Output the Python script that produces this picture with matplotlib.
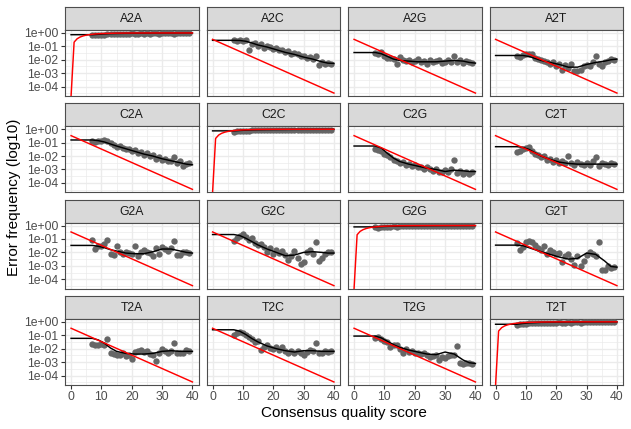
import matplotlib
matplotlib.use('Agg')
import matplotlib.pyplot as plt
from matplotlib.ticker import FixedLocator, NullFormatter
import numpy as np

plt.rcParams.update({
    'font.family': ['Liberation Sans', 'DejaVu Sans'],
})

# transitions, in facet order
transitions = ['A2A', 'A2C', 'A2G', 'A2T',
               'C2A', 'C2C', 'C2G', 'C2T',
               'G2A', 'G2C', 'G2G', 'G2T',
               'T2A', 'T2C', 'T2G', 'T2T']

# consensus quality scores of the observed points
obs_q = [7, 8, 9, 10, 11, 12, 13, 14, 15, 16, 17, 18, 19, 20, 21, 22, 23,
         24, 25, 26, 27, 28, 29, 30, 31, 32, 33, 34, 35, 36, 37, 38, 39]

obs_A2A = [-0.16, -0.18, -0.14, -0.12, -0.15, -0.09, -0.11, -0.07, -0.08, -0.06, -0.09,
           -0.05, -0.06, -0.04, -0.07, -0.05, -0.04, -0.06, -0.03, -0.05, -0.04, -0.03,
           -0.05, -0.03, -0.04, -0.02, -0.03, -0.05, -0.02, -0.03, -0.04, -0.02, -0.03]
obs_A2C = [-0.55, -0.58, -0.52, -0.60, -0.55, -1.30, -0.85, -0.75, -1.00, -0.85, -1.10,
           -0.95, -1.05, -1.20, -1.15, -1.30, -1.25, -1.45, -1.35, -1.60, -1.50, -1.55,
           -1.75, -1.70, -1.90, -1.80, -1.95, -1.70, -2.40, -2.20, -2.35, -2.25, -2.30]
obs_A2G = [-1.50, -1.55, -1.45, -1.70, -1.85, -1.90, -1.95, -2.30, -1.80, -2.05, -2.10,
           -2.00, -2.15, -2.10, -1.95, -2.20, -2.10, -2.30, -2.05, -2.20, -2.10, -2.00,
           -2.25, -2.15, -2.05, -2.20, -1.75, -2.15, -2.00, -2.25, -2.10, -2.20, -2.25]
obs_A2T = [-1.70, -1.80, -1.65, -1.55, -1.60, -1.55, -1.85, -1.95, -2.00, -2.10, -2.15,
           -2.30, -2.20, -2.50, -2.30, -2.75, -2.40, -2.60, -2.30, -2.80, -2.80, -2.75,
           -2.50, -2.40, -2.50, -2.20, -1.75, -2.35, -2.45, -2.20, -2.10, -1.95, -2.05]
obs_C2A = [-0.85, -0.95, -0.90, -0.85, -0.80, -0.90, -1.00, -1.20, -1.30, -1.25, -1.40,
           -1.50, -1.45, -1.60, -1.55, -1.80, -1.70, -1.95, -1.80, -2.00, -1.90, -2.20,
           -2.10, -2.30, -2.20, -2.40, -2.35, -2.05, -2.55, -2.40, -2.75, -2.60, -2.50]
obs_C2C = [-0.17, -0.14, -0.16, -0.11, -0.13, -0.10, -0.08, -0.09, -0.06, -0.07, -0.05,
           -0.08, -0.04, -0.06, -0.05, -0.03, -0.06, -0.04, -0.03, -0.05, -0.03, -0.04,
           -0.02, -0.04, -0.03, -0.05, -0.02, -0.03, -0.04, -0.02, -0.03, -0.02, -0.03]
obs_C2G = [-1.50, -1.55, -1.60, -1.85, -1.90, -2.10, -2.30, -2.40, -2.55, -2.45, -2.70,
           -2.60, -2.75, -2.70, -2.85, -2.80, -2.95, -2.85, -3.00, -3.10, -2.95, -3.20,
           -3.15, -3.05, -3.20, -3.00, -2.30, -3.25, -3.10, -3.35, -3.15, -3.30, -3.20]
obs_C2T = [-1.70, -1.65, -1.50, -1.40, -1.30, -1.65, -1.85, -1.95, -2.10, -2.00, -2.30,
           -2.20, -2.45, -2.30, -2.50, -2.40, -2.55, -2.00, -2.50, -2.65, -2.45, -2.60,
           -2.70, -2.50, -2.65, -2.40, -2.10, -2.75, -2.55, -2.60, -2.70, -2.50, -2.60]
obs_G2A = [-1.05, -1.75, -1.50, -1.55, -1.35, -1.10, -2.15, -2.20, -1.55, -2.00, -2.10,
           -1.95, -2.05, -2.10, -1.55, -2.30, -2.00, -1.85, -2.00, -2.05, -2.25, -1.70,
           -2.15, -1.60, -1.75, -1.90, -1.70, -1.15, -2.20, -2.20, -1.95, -1.95, -2.05]
obs_G2C = [-1.15, -0.90, -0.75, -0.65, -0.85, -1.10, -0.95, -1.30, -1.45, -1.35, -1.60,
           -1.95, -1.70, -2.10, -1.80, -2.05, -1.90, -2.20, -2.60, -2.30, -1.90, -2.45,
           -2.90, -2.70, -2.00, -1.85, -2.15, -1.20, -2.65, -2.40, -2.10, -2.00, -1.95]
obs_G2G = [-0.13, -0.15, -0.11, -0.12, -0.09, -0.10, -0.07, -0.08, -0.05, -0.07, -0.06,
           -0.04, -0.05, -0.06, -0.03, -0.04, -0.05, -0.03, -0.04, -0.02, -0.05, -0.03,
           -0.04, -0.02, -0.03, -0.04, -0.02, -0.03, -0.02, -0.04, -0.02, -0.03, -0.02]
obs_G2T = [-1.30, -1.80, -1.60, -1.20, -1.15, -1.20, -1.45, -1.65, -1.80, -1.55, -2.10,
           -1.80, -1.95, -2.15, -2.05, -2.70, -2.30, -2.10, -2.50, -2.95, -2.30, -3.00,
           -2.65, -2.20, -2.00, -2.10, -2.25, -1.20, -3.35, -3.30, -3.05, -3.15, -3.10]
obs_T2A = [-1.65, -1.70, -1.70, -1.65, -1.75, -1.30, -2.35, -2.40, -2.50, -2.45, -2.35,
           -2.55, -2.45, -2.80, -2.25, -2.20, -2.10, -2.25, -2.15, -2.40, -2.45, -2.95,
           -2.35, -2.05, -2.20, -2.30, -2.15, -1.55, -2.35, -2.30, -2.35, -2.10, -2.20]
obs_T2C = [-1.00, -0.80, -0.75, -0.85, -0.95, -1.10, -1.25, -1.50, -1.45, -2.10, -1.85,
           -1.75, -1.95, -2.00, -1.90, -2.10, -1.85, -2.15, -2.30, -2.20, -2.35, -2.20,
           -2.30, -2.50, -2.25, -2.10, -2.20, -1.60, -2.30, -2.30, -2.15, -2.25, -2.15]
obs_T2G = [-1.20, -1.10, -1.25, -1.40, -1.50, -1.85, -1.70, -1.75, -2.00, -2.35, -2.05,
           -2.25, -2.20, -2.30, -2.30, -2.40, -2.35, -2.45, -2.60, -2.55, -2.50, -2.85,
           -2.60, -2.70, -2.55, -2.50, -2.45, -1.80, -3.10, -3.15, -3.10, -3.05, -3.15]
obs_T2T = [-0.20, -0.16, -0.14, -0.15, -0.11, -0.12, -0.09, -0.10, -0.07, -0.08, -0.06,
           -0.07, -0.05, -0.06, -0.04, -0.05, -0.06, -0.03, -0.05, -0.04, -0.03, -0.05,
           -0.02, -0.04, -0.03, -0.02, -0.04, -0.03, -0.02, -0.03, -0.02, -0.03, -0.02]

# fitted error rates (black line, log10) at these quality scores
fit_q = [0, 7, 9, 11, 13, 15, 18, 21, 24, 27, 30, 33, 36, 38, 40]
fit_A2A = [-0.13, -0.13, -0.10, -0.07, -0.05, -0.04, -0.03, -0.025, -0.02, -0.015, -0.012, -0.01, -0.008, -0.006, -0.005]
fit_A2C = [-0.55, -0.55, -0.56, -0.62, -0.75, -0.90, -1.05, -1.25, -1.45, -1.60, -1.80, -1.95, -2.15, -2.25, -2.27]
fit_A2G = [-1.46, -1.46, -1.55, -1.75, -1.95, -2.05, -2.10, -2.15, -2.15, -2.15, -2.10, -2.05, -2.10, -2.20, -2.25]
fit_A2T = [-1.68, -1.68, -1.68, -1.75, -1.90, -2.05, -2.20, -2.35, -2.55, -2.55, -2.35, -2.20, -2.10, -2.00, -1.95]
fit_C2A = [-0.80, -0.80, -0.85, -0.95, -1.10, -1.25, -1.45, -1.65, -1.85, -2.00, -2.20, -2.35, -2.50, -2.60, -2.65]
fit_C2C = [-0.12, -0.12, -0.09, -0.07, -0.05, -0.04, -0.03, -0.025, -0.02, -0.015, -0.012, -0.01, -0.008, -0.006, -0.005]
fit_C2G = [-1.25, -1.25, -1.40, -1.80, -2.15, -2.40, -2.60, -2.75, -2.90, -3.00, -3.15, -3.05, -3.10, -3.15, -3.15]
fit_C2T = [-1.30, -1.30, -1.35, -1.50, -1.75, -2.00, -2.25, -2.45, -2.55, -2.60, -2.60, -2.60, -2.60, -2.60, -2.60]
fit_G2A = [-1.48, -1.48, -1.55, -1.65, -1.80, -1.90, -2.05, -2.10, -2.10, -1.95, -1.75, -1.75, -1.90, -2.00, -2.05]
fit_G2C = [-0.67, -0.67, -0.75, -0.95, -1.20, -1.45, -1.75, -2.00, -2.25, -2.20, -2.00, -1.95, -2.00, -2.05, -2.05]
fit_G2G = [-0.10, -0.10, -0.08, -0.06, -0.05, -0.04, -0.03, -0.025, -0.02, -0.015, -0.012, -0.01, -0.008, -0.006, -0.005]
fit_G2T = [-1.46, -1.46, -1.50, -1.65, -1.80, -1.95, -2.15, -2.35, -2.50, -2.45, -2.05, -2.15, -2.65, -3.05, -3.10]
fit_T2A = [-1.23, -1.23, -1.35, -1.60, -1.95, -2.20, -2.35, -2.40, -2.40, -2.35, -2.20, -2.15, -2.20, -2.20, -2.20]
fit_T2C = [-0.59, -0.59, -0.70, -0.95, -1.25, -1.50, -1.80, -2.00, -2.15, -2.25, -2.15, -2.15, -2.20, -2.20, -2.20]
fit_T2G = [-1.06, -1.06, -1.20, -1.45, -1.70, -1.90, -2.10, -2.25, -2.40, -2.45, -2.25, -2.40, -2.85, -3.05, -3.10]
fit_T2T = [-0.18, -0.18, -0.12, -0.08, -0.06, -0.04, -0.03, -0.025, -0.02, -0.015, -0.012, -0.01, -0.008, -0.006, -0.005]

# nominal error rates (red line)
nom_off_q = [0, 40]
nom_off = [0.333, 3.3e-5]
nom_diag_q = [0, 1, 2, 3, 4, 5, 6, 8, 10, 15, 20, 30, 40]
nom_diag = [0.0, 0.206, 0.369, 0.499, 0.602, 0.684, 0.749, 0.842, 0.900, 0.968, 0.990, 0.999, 1.0]

y_ticks = [1e-4, 1e-3, 1e-2, 1e-1, 1e0]
y_tick_labels = ['1e-04', '1e-03', '1e-02', '1e-01', '1e+00']
x_ticks = [0, 10, 20, 30, 40]

observed = {'A2A': obs_A2A, 'A2C': obs_A2C, 'A2G': obs_A2G, 'A2T': obs_A2T,
            'C2A': obs_C2A, 'C2C': obs_C2C, 'C2G': obs_C2G, 'C2T': obs_C2T,
            'G2A': obs_G2A, 'G2C': obs_G2C, 'G2G': obs_G2G, 'G2T': obs_G2T,
            'T2A': obs_T2A, 'T2C': obs_T2C, 'T2G': obs_T2G, 'T2T': obs_T2T}
fitted = {'A2A': fit_A2A, 'A2C': fit_A2C, 'A2G': fit_A2G, 'A2T': fit_A2T,
          'C2A': fit_C2A, 'C2C': fit_C2C, 'C2G': fit_C2G, 'C2T': fit_C2T,
          'G2A': fit_G2A, 'G2C': fit_G2C, 'G2G': fit_G2G, 'G2T': fit_G2T,
          'T2A': fit_T2A, 'T2C': fit_T2C, 'T2G': fit_T2G, 'T2T': fit_T2T}

W, H = 631, 429
fig = plt.figure(figsize=(W / 100, H / 100), dpi=100)

border = '#4D4D4D'
left0, col_pitch, panel_w = 65, 141.5, 133.5
top0, row_pitch, strip_h, panel_h = 7, 96.3, 23, 66
y_lo, y_hi = 10 ** -4.70, 10 ** 0.22

for k, name in enumerate(transitions):
    row, col = divmod(k, 4)
    x0 = left0 + col * col_pitch
    y_strip = top0 + row * row_pitch
    y_panel = y_strip + strip_h

    sax = fig.add_axes([x0 / W, 1 - (y_strip + strip_h) / H, panel_w / W, strip_h / H])
    ax = fig.add_axes([x0 / W, 1 - (y_panel + panel_h) / H, panel_w / W, panel_h / H])

    # strip
    sax.set_facecolor('#D9D9D9')
    sax.set_xticks([])
    sax.set_yticks([])
    for sp in sax.spines.values():
        sp.set_color(border)
        sp.set_linewidth(0.8)
    sax.text(0.5, 0.47, name, ha='center', va='center', fontsize=8.8,
             color='#1A1A1A', transform=sax.transAxes)

    # data
    obs = 10 ** np.array(observed[name])
    fit = 10 ** np.array(fitted[name])
    ax.scatter(obs_q, obs, s=21, color='#666666', linewidths=0, zorder=3)
    ax.plot(fit_q, fit, color='black', lw=1.05, zorder=4)
    if name[0] == name[2]:
        # zero rate (log = -Inf) is drawn at the panel bottom, as ggplot does
        nom = np.clip(np.array(nom_diag), y_lo, None)
        ax.plot(nom_diag_q, nom, color='red', lw=1.05, zorder=5)
    else:
        ax.plot(nom_off_q, nom_off, color='red', lw=1.05, zorder=5)

    ax.set_yscale('log')
    ax.set_ylim(y_lo, y_hi)
    ax.set_xlim(-2, 42)

    ax.set_xticks(x_ticks)
    ax.xaxis.set_minor_locator(FixedLocator([5, 15, 25, 35]))
    ax.set_yticks(y_ticks)
    ax.yaxis.set_minor_locator(FixedLocator([10 ** -4.5, 10 ** -3.5, 10 ** -2.5,
                                             10 ** -1.5, 10 ** -0.5]))
    ax.yaxis.set_minor_formatter(NullFormatter())
    ax.grid(True, which='major', color='#EBEBEB', lw=1.0)
    ax.grid(True, which='minor', color='#EBEBEB', lw=0.5)
    ax.set_axisbelow(True)
    for sp in ax.spines.values():
        sp.set_color(border)
        sp.set_linewidth(0.8)
    ax.tick_params(which='minor', length=0)
    ax.tick_params(which='major', length=2.75, width=0.8, color='#333333',
                   labelsize=8.8, labelcolor='#4D4D4D', pad=2)

    if col == 0:
        ax.set_yticklabels(y_tick_labels)
    else:
        ax.tick_params(axis='y', which='major', length=0, labelleft=False)
    if row == 3:
        ax.set_xticklabels([str(v) for v in x_ticks])
    else:
        ax.tick_params(axis='x', which='major', length=0, labelbottom=False)

fig.text(14 / W, 1 - 197 / H, 'Error frequency (log10)', rotation=90,
         ha='center', va='center', fontsize=11)
fig.text(344 / W, 1 - 406 / H, 'Consensus quality score',
         ha='center', va='top', fontsize=11)

fig.savefig('out.png', dpi=100)
